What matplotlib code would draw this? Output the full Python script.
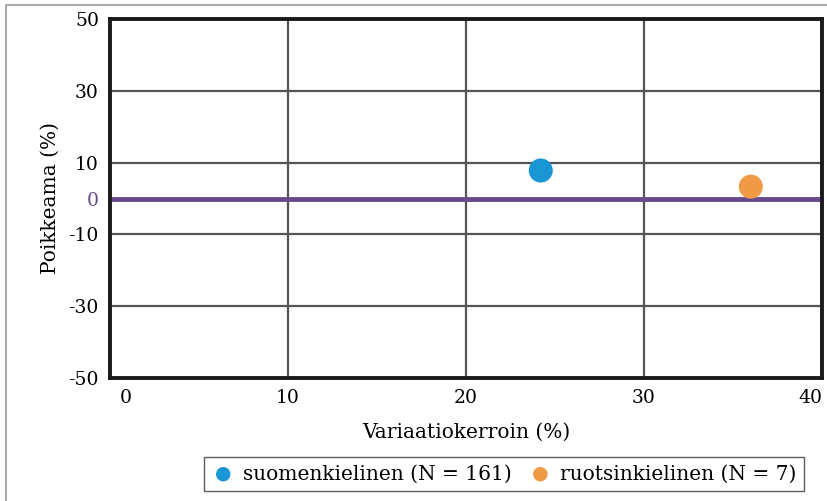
import matplotlib
matplotlib.use("Agg")
import matplotlib.pyplot as plt
from matplotlib.patches import Rectangle
from matplotlib.transforms import ScaledTranslation

plt.rcParams['font.family'] = ['DejaVu Serif']

# data
groups = ["suomenkielinen (N = 161)", "ruotsinkielinen (N = 7)"]
variaatio = [24.2, 36.0]
poikkeama = [7.8, 3.3]
colors = ["#1a96d4", "#f09a45"]

y_ticks = [50, 30, 10, 0, -10, -30, -50]
x_ticks = [0, 10, 20, 30, 40]

fig = plt.figure(figsize=(8.27, 5.01), dpi=100)
ax = fig.add_axes([110 / 827, 1 - 378 / 501, 712 / 827, 359 / 501])

# outer frame
fig.patches.append(Rectangle((6 / 827, -0.1), 1.2, 1 - 5 / 501 + 0.1,
                             transform=fig.transFigure, fill=False,
                             edgecolor="#999999", lw=1.2))

ax.set_xlim(0, 40)
ax.set_ylim(-50, 50)

for x in [10, 20, 30]:
    ax.axvline(x, color="#555555", lw=1.6, zorder=1)
for y in [30, 10, -10, -30]:
    ax.axhline(y, color="#555555", lw=1.6, zorder=1)
ax.axhline(0, color="#674a8c", lw=3.5, zorder=2)

for xv, yv, c, g in zip(variaatio, poikkeama, colors, groups):
    ax.scatter([xv], [yv], s=300, color=c, label=g, zorder=3, edgecolors="none")

for s in ax.spines.values():
    s.set_linewidth(2.8)
    s.set_color("#1a1a1a")

ax.set_yticks(y_ticks)
ax.set_yticklabels([str(t) for t in y_ticks], fontsize=13.5)
ax.get_yticklabels()[3].set_color("#674a8c")
ax.set_xticks(x_ticks)
ax.set_xticklabels([str(t) for t in x_ticks], fontsize=13.5)
ax.tick_params(axis="y", length=0, pad=8)
ax.tick_params(axis="x", length=0, pad=8)
xl = ax.get_xticklabels()
xl[0].set_transform(xl[0].get_transform() + ScaledTranslation(16 / 100, 0, fig.dpi_scale_trans))
xl[-1].set_ha("right")

ax.set_xlabel("Variaatiokerroin (%)", fontsize=14.5, labelpad=11)
ax.set_ylabel("Poikkeama (%)", fontsize=14.5, labelpad=6)

leg = fig.legend(loc="center", bbox_to_anchor=(504 / 827, 1 - 474 / 501),
                 ncol=2, fontsize=14.5, frameon=True, fancybox=False,
                 edgecolor="#333333", markerscale=0.6, handletextpad=0.4,
                 columnspacing=0.8, borderpad=0.35, handlelength=1.2)
leg.get_frame().set_linewidth(1.0)

fig.savefig("out.png", dpi=100)
